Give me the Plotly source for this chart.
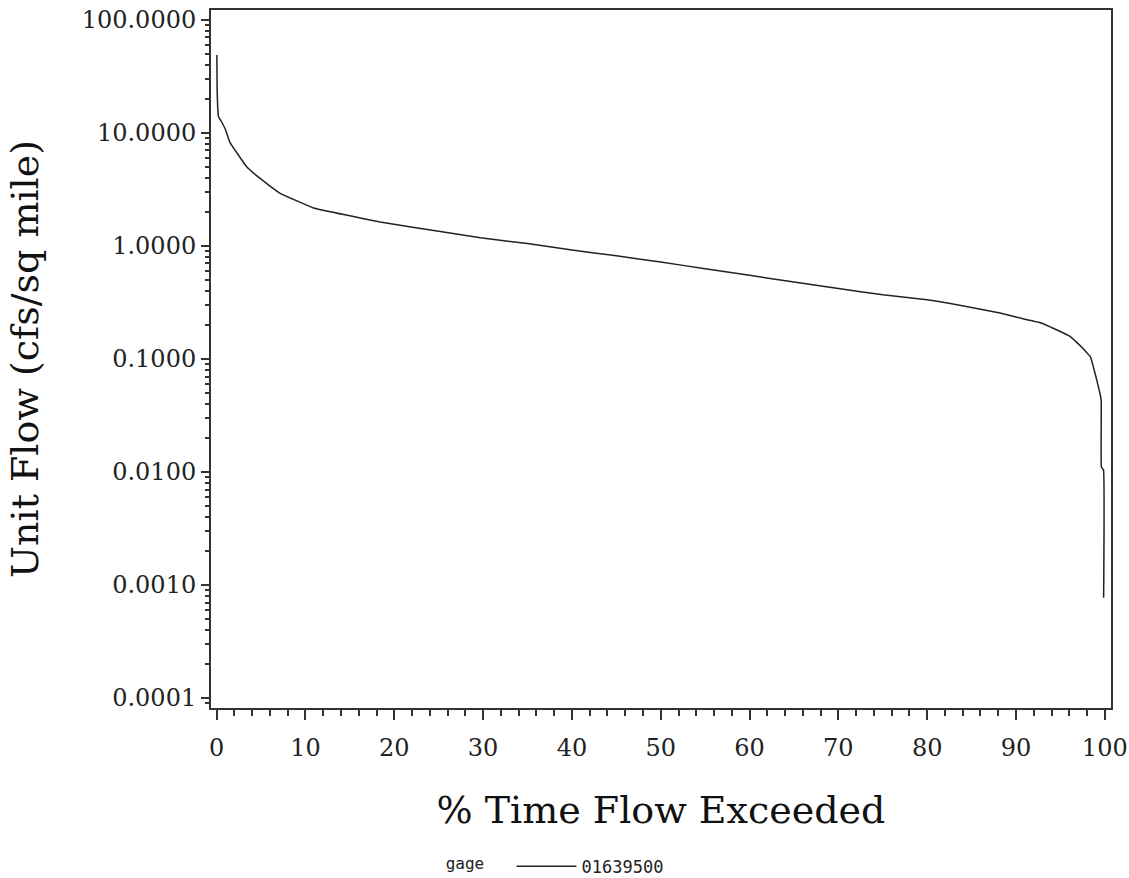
import plotly.graph_objects as go

# Flow-duration data
pct_exceeded = [0.02, 0.05, 0.2, 0.56, 0.93, 1.5, 2.2, 3.4, 5.0, 7.1, 10.9, 15.0, 18.4,
                25.0, 29.7, 35.0, 40.0, 45.0, 50.0, 55.0, 60.0, 65.0, 70.0, 75.0, 80.0,
                82.6, 85.0, 88.2, 90.0, 92.7, 94.0, 95.0, 96.0, 96.9, 97.5, 98.0, 98.4,
                98.8, 99.1, 99.4, 99.6, 99.62, 99.85, 99.87]
unit_flow = [49, 24, 14, 12.5, 11.0, 8.2, 6.8, 5.0, 3.9, 2.94, 2.17, 1.85, 1.63,
             1.35, 1.18, 1.05, 0.92, 0.82, 0.72, 0.63, 0.55, 0.48, 0.42, 0.37, 0.335,
             0.31, 0.285, 0.255, 0.235, 0.21, 0.19, 0.175, 0.16, 0.139, 0.125, 0.113, 0.104,
             0.08, 0.065, 0.052, 0.043, 0.011, 0.0105, 0.00077]
series_name = "01639500"
legend_title = "gage"

y_tickvals = [100, 10, 1, 0.1, 0.01, 0.001, 0.0001]
y_ticktext = ["100.0000", "10.0000", "1.0000", "0.1000", "0.0100", "0.0010", "0.0001"]
x_tickvals = [0, 10, 20, 30, 40, 50, 60, 70, 80, 90, 100]

fig = go.Figure()
fig.add_trace(go.Scatter(
    x=pct_exceeded, y=unit_flow, mode="lines", name=series_name,
    line=dict(color="#222222", width=1.5, shape="spline", smoothing=0.3),
))

serif = "DejaVu Serif"
fig.update_layout(
    width=1129, height=878,
    margin=dict(l=211, r=18, t=10, b=170),
    paper_bgcolor="white", plot_bgcolor="white",
    showlegend=True,
    legend=dict(
        orientation="h", xref="container", yref="container",
        x=0.393, xanchor="left", y=0.013, yanchor="middle",
        title=dict(text=legend_title + "  ", font=dict(family="DejaVu Sans Mono", size=16, color="#222")),
        font=dict(family="DejaVu Sans Mono", size=17, color="#222"),
        bgcolor="rgba(0,0,0,0)", itemwidth=60,
    ),
    xaxis=dict(
        range=[-0.64, 100.7], tickvals=x_tickvals, automargin=False,
        ticks="outside", ticklen=10, tickwidth=2, tickcolor="#333",
        minor=dict(ticks="outside", ticklen=6, tickwidth=2, tickcolor="#333", dtick=2),
        showline=True, linecolor="#333", linewidth=2, mirror=True,
        showgrid=False, zeroline=False, ticklabelstandoff=7, ticklabeloverflow="allow",
        tickfont=dict(family=serif, size=24, color="#222"),
        title=dict(text="% Time Flow Exceeded", font=dict(family=serif, size=38, color="#111"), standoff=36),
    ),
    yaxis=dict(
        type="log", range=[-4.088, 2.088], automargin=False,
        tickvals=y_tickvals, ticktext=y_ticktext, ticklabeloverflow="allow",
        ticks="outside", ticklen=8, tickwidth=2, tickcolor="#333",
        minor=dict(ticks="outside", ticklen=4, tickwidth=2, tickcolor="#333", dtick="D1"),
        showline=True, linecolor="#333", linewidth=2, mirror=True,
        showgrid=False, zeroline=False,
        tickfont=dict(family=serif, size=24, color="#222"),
        title=dict(text="Unit Flow (cfs/sq mile)", font=dict(family=serif, size=38, color="#111"), standoff=31),
    ),
)

fig.write_html(
    "out.html",
    config={"displayModeBar": False},
    post_script="document.body.style.margin='0';document.body.style.overflow='hidden';",
)
